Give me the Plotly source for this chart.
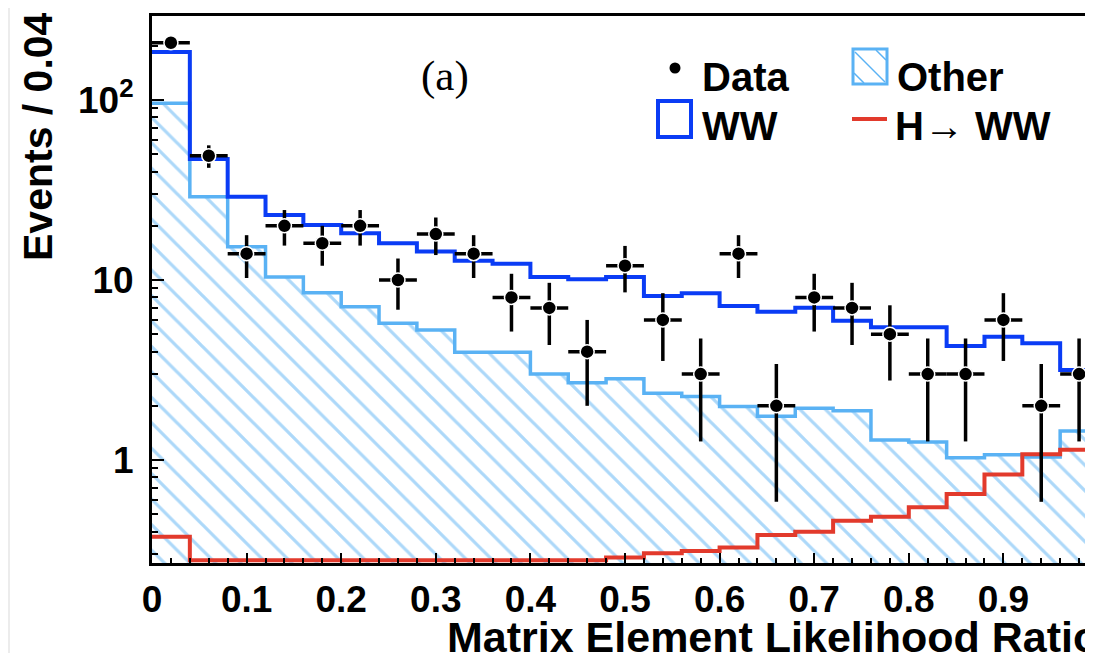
import numpy as np
import plotly.graph_objects as go

# ---------------- data ----------------
bin_edges = [0.00, 0.04, 0.08, 0.12, 0.16, 0.20, 0.24, 0.28, 0.32, 0.36, 0.40,
             0.44, 0.48, 0.52, 0.56, 0.60, 0.64, 0.68, 0.72, 0.76, 0.80,
             0.84, 0.88, 0.92, 0.96, 1.00]

other = [96, 29, 15.3, 10.4, 8.5, 7.1, 5.75, 5.27, 3.97, 3.97, 3.0, 2.69, 2.83,
         2.35, 2.25, 1.98, 1.75, 1.94, 1.88, 1.29, 1.26, 1.03, 1.07, 1.04, 1.45]

ww = [89, 18, 13.7, 12.6, 11.7, 11.1, 10.25, 9.13, 8.83, 8.33, 7.4, 7.41, 7.57,
      5.8, 6.19, 5.19, 4.92, 5.08, 4.06, 4.17, 4.2, 3.27, 3.77, 3.41, 1.71]

higgs = [0.375, 0.277, 0.277, 0.277, 0.277, 0.277, 0.277, 0.277, 0.277, 0.277,
         0.277, 0.277, 0.287, 0.303, 0.312, 0.326, 0.383, 0.400, 0.460, 0.484,
         0.546, 0.647, 0.832, 1.075, 1.14]

data = [208, 49, 14, 20, 16, 20, 10, 18, 14, 8, 7, 4, 12, 6, 3, 14, 2, 8, 7, 5,
        3, 3, 6, 2, 3]

x_tick_vals = [0, 0.1, 0.2, 0.3, 0.4, 0.5, 0.6, 0.7, 0.8, 0.9]
x_tick_text = ["0", "0.1", "0.2", "0.3", "0.4", "0.5", "0.6", "0.7", "0.8", "0.9"]
y_tick_vals = [1, 10, 100]
y_tick_text = ["1", "10", "10<sup>2</sup>"]

# ---------------- styles ----------------
LB = "#5ab2f4"   # light blue (Other)
DB = "#0a3cf5"   # dark blue (WW)
RED = "#e23a2c"
FONT = "Liberation Sans"

OFF = 8                      # page body margin of the html page
WIN_W, WIN_H = 1093, 653
PLOT_L, PLOT_T, PLOT_B = 152, 16, 563   # plot area in window pixels
W, H = WIN_W - OFF, WIN_H - OFF
L, T = PLOT_L - OFF, PLOT_T - OFF
B = H - (PLOT_B - OFF)
R = 0
PW = W - L - R
PH = H - T - B
PX_PER_UNIT = 946.0
PX_PER_DECADE = 180.0
Y1_PX = 460.0                # window pixel of y = 1
YMIN = -(PLOT_B - Y1_PX) / PX_PER_DECADE
YMAX = (Y1_PX - PLOT_T) / PX_PER_DECADE


def pxx(px):
    return (px - PLOT_L) / PW


def pxy(py):
    return (PLOT_B - py) / PH


edges = np.array(bin_edges)
centers = (edges[:-1] + edges[1:]) / 2
half_w = (edges[1] - edges[0]) / 2
other_a = np.array(other)
total_a = other_a + np.array(ww)
higgs_a = np.array(higgs)
data_a = np.array(data, dtype=float)


def step(v):
    return list(v) + [v[-1]]


fig = go.Figure()

# baseline for the hatched fill
fig.add_trace(go.Scatter(x=edges, y=[0.01] * len(edges), mode="lines",
                         line=dict(width=0, color="rgba(0,0,0,0)"),
                         showlegend=False, hoverinfo="skip"))
# Other (hatched)
fig.add_trace(go.Scatter(x=edges, y=step(other_a), mode="lines", line_shape="hv",
                         fill="tonexty", fillcolor="rgba(0,0,0,0)",
                         fillpattern=dict(shape="\\", fgcolor=LB, bgcolor="rgba(0,0,0,0)",
                                          size=18, solidity=0.18),
                         line=dict(color=LB, width=3.5), name="Other", showlegend=False))
# WW (stacked on Other)
fig.add_trace(go.Scatter(x=edges, y=step(total_a), mode="lines", line_shape="hv",
                         line=dict(color=DB, width=4), name="WW", showlegend=False))
# H -> WW
fig.add_trace(go.Scatter(x=edges, y=step(higgs_a), mode="lines", line_shape="hv",
                         line=dict(color=RED, width=4), name="H→WW", showlegend=False))
# Data
fig.add_trace(go.Scatter(x=centers, y=data_a, mode="markers",
                         marker=dict(color="black", size=14,
                                     line=dict(color="white", width=1.5)),
                         error_x=dict(type="constant", value=half_w, color="black",
                                      thickness=3.5, width=0),
                         error_y=dict(type="data", array=np.sqrt(data_a), color="black",
                                      thickness=3.5, width=0),
                         name="Data", showlegend=False, cliponaxis=False))

minor_y = [m * 10.0 ** e for e in (-1, 0, 1, 2) for m in range(2, 10)]

fig.update_layout(
    width=W, height=H,
    margin=dict(l=L, r=R, t=T, b=B, pad=0),
    paper_bgcolor="white", plot_bgcolor="white",
    showlegend=False,
    xaxis=dict(range=[0, PW / PX_PER_UNIT], showline=True, linecolor="black",
               linewidth=3, mirror=True, ticks="inside", ticklen=10, tickwidth=2,
               tickcolor="black", tickvals=x_tick_vals, ticktext=x_tick_text,
               tickfont=dict(family=FONT, size=37, color="black", weight="bold"),
               minor=dict(ticks="inside", ticklen=5, tickwidth=1.5, tickcolor="black",
                          dtick=0.02),
               showgrid=False, zeroline=False, ticklabelstandoff=2),
    yaxis=dict(type="log", range=[YMIN, YMAX], showline=True, linecolor="black",
               linewidth=3, mirror=False, ticks="inside", ticklen=12, tickwidth=2,
               tickcolor="black", tickvals=y_tick_vals, ticktext=y_tick_text,
               tickfont=dict(family=FONT, size=37, color="black", weight="bold"),
               minor=dict(ticks="inside", ticklen=6, tickwidth=1.5, tickcolor="black",
                          tickvals=minor_y),
               showgrid=False, zeroline=False, ticklabelstandoff=8),
)

ann = []
# axis titles
ann.append(dict(x=pxx(445), y=pxy(637), xref="paper", yref="paper", xanchor="left",
                yanchor="middle", showarrow=False, text="Matrix Element Likelihood Ratio",
                font=dict(family=FONT, size=43, color="black", weight="bold")))
ann.append(dict(x=pxx(38), y=pxy(137), xref="paper", yref="paper", xanchor="center",
                yanchor="middle", showarrow=False, text="Events / 0.04", textangle=-90,
                font=dict(family=FONT, size=41, color="black", weight="bold")))
# "1" tick label at the cropped right edge
ann.append(dict(x=pxx(PLOT_L + PX_PER_UNIT), y=pxy(588), xref="paper", yref="paper",
                xanchor="center", yanchor="middle", showarrow=False, text="1",
                font=dict(family=FONT, size=37, color="black", weight="bold")))
# panel label
ann.append(dict(x=pxx(445), y=pxy(76), xref="paper", yref="paper", xanchor="center",
                yanchor="middle", showarrow=False, text="(a)",
                font=dict(family="Liberation Serif", size=43, color="black")))
# legend texts
for txt, xl, yc in [("Data", 700, 77), ("Other", 895, 77), ("WW", 700, 126),
                    ("H\u2192 WW", 893, 126)]:
    ann.append(dict(x=pxx(xl), y=pxy(yc), xref="paper", yref="paper", xanchor="left",
                    yanchor="middle", showarrow=False, text=txt,
                    font=dict(family=FONT, size=40, color="black", weight="bold")))

shapes = []
# light grey strip at the far left of the screenshot
shapes.append(dict(type="rect", xref="paper", yref="paper", x0=pxx(0), x1=pxx(10),
                   y0=pxy(WIN_H + 20), y1=pxy(-20), fillcolor="#ececec", line=dict(width=0),
                   layer="below"))
# legend symbols
shapes.append(dict(type="circle", xref="paper", yref="paper", x0=pxx(669.5), x1=pxx(680.5),
                   y0=pxy(73.5), y1=pxy(62.5), fillcolor="black", line=dict(width=0)))
shapes.append(dict(type="rect", xref="paper", yref="paper", x0=pxx(853), x1=pxx(887),
                   y0=pxy(84), y1=pxy(49), fillcolor="white", line=dict(color=LB, width=3)))
for (a, b, c, d) in [(855, 52, 885, 82), (876, 50, 886, 60), (854, 73, 864, 83)]:
    shapes.append(dict(type="line", xref="paper", yref="paper", x0=pxx(a), y0=pxy(b),
                       x1=pxx(c), y1=pxy(d), line=dict(color=LB, width=1.5)))
shapes.append(dict(type="rect", xref="paper", yref="paper", x0=pxx(658), x1=pxx(691),
                   y0=pxy(137), y1=pxy(101), fillcolor="rgba(0,0,0,0)",
                   line=dict(color=DB, width=4)))
shapes.append(dict(type="line", xref="paper", yref="paper", x0=pxx(852), x1=pxx(887),
                   y0=pxy(119), y1=pxy(119), line=dict(color=RED, width=4)))

fig.update_layout(annotations=ann, shapes=shapes)

fig.write_html("out.html")
